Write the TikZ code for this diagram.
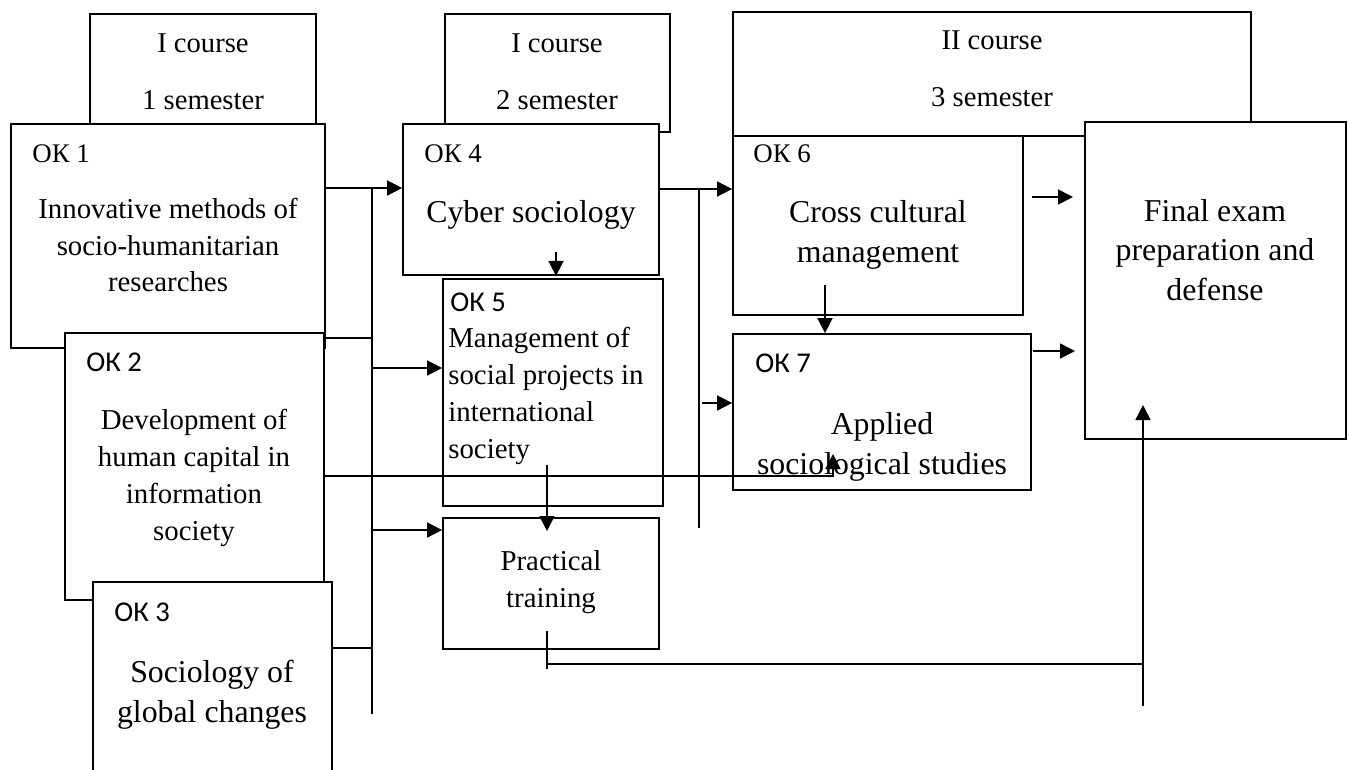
\documentclass[tikz,border=0pt]{standalone}
\usepackage{fontspec}
\setmainfont{Liberation Serif}
\newfontfamily\calibri{Carlito}
\usetikzlibrary{arrows.meta, fit, calc}

\tikzset{
  box/.style={draw, fill=white, line width=1pt, inner sep=0pt},
  serlab/.style={anchor=base west, inner sep=0pt, font=\fontsize{15.3}{18}\selectfont},
  sanlab/.style={anchor=base west, inner sep=0pt, font=\calibri\fontsize{16.3}{19}\selectfont},
  txt/.style={align=center, inner sep=0pt, font=\fontsize{16.4}{21}\selectfont},
  bigtxt/.style={align=center, inner sep=0pt, font=\fontsize{18.1}{22.7}\selectfont},
  semtxt/.style={align=center, inner sep=0pt, font=\fontsize{16.3}{32.3}\selectfont},
  conn/.style={line width=0.9pt},
  arr/.style={conn, -{Triangle[length=0.3cm, width=0.3cm]}},
}

\begin{document}
\begin{tikzpicture}[x=0.02cm, y=-0.02cm]
\useasboundingbox (0,0) rectangle (1349,769);

% I course, 1 semester
\node[box, fit={(90,14) (316,130)}] (sem1) {};
\node[semtxt] (sem1t) at (203,72) {I course\\1 semester};

% I course, 2 semester
\node[box, fit={(445,14) (670,132)}] (sem2) {};
\node[semtxt] (sem2t) at (557,72) {I course\\2 semester};

% II course, 3 semester
\node[box, fit={(733,12) (1251,136)}] (sem3) {};
\node[semtxt] (sem3t) at (992,69) {II course\\3 semester};

% OK 1
\node[box, fit={(11,124) (325,348)}] (ok1) {};
\node[serlab] (ok1l) at (32,162) {ОК 1};
\node[txt] (ok1t) at (168,245) {Innovative methods of\\socio-humanitarian\\researches};

% OK 2
\node[box, fit={(65,333) (324,600)}] (ok2) {};
\node[sanlab] (ok2l) at (86,371) {ОК 2};
\node[txt] (ok2t) at (194,478) {Development of\\human capital in\\information\\society};

% OK 3
\node[box, fit={(93,582) (332,790)}] (ok3) {};
\node[sanlab] (ok3l) at (114,621) {ОК 3};
\node[bigtxt] (ok3t) at (212,695) {Sociology of\\global changes};

% OK 4
\node[box, fit={(403,124) (659,275)}] (ok4) {};
\node[serlab] (ok4l) at (424,162) {ОК 4};
\node[bigtxt] (ok4t) at (531,215) {Cyber sociology};

% OK 5
\node[box, fit={(443,279) (663,506)}] (ok5) {};
\node[sanlab] (ok5l) at (450,311) {ОК 5};
\node[txt, align=left, anchor=west] (ok5t) at (448,396) {Management of\\social projects in\\international\\society};

% practical training
\node[box, fit={(443,518) (659,649)}] (prac) {};
\node[txt] (pract) at (551,582) {Practical\\training};

% OK 6
\node[box, fit={(733,136) (1023,315)}] (ok6) {};
\node[serlab] (ok6l) at (753,162) {ОК 6};
\node[bigtxt] (ok6t) at (878,235) {Cross cultural\\management};

% OK 7
\node[box, fit={(733,334) (1031,490)}] (ok7) {};
\node[sanlab] (ok7l) at (755,372) {ОК 7};
\node[bigtxt] (ok7t) at (882,447) {Applied\\sociological studies};

% final exam
\node[box, fit={(1085,122) (1346,439)}] (fin) {};
\node[bigtxt] (fint) at (1215,250) {Final exam\\preparation and\\defense};

% first bus
\coordinate (bus1t) at (372,188);
\coordinate (bus1b) at (372,714);
\coordinate (j2) at (372,338);
\coordinate (j5) at (372,368);
\coordinate (j6) at (372,530);
\coordinate (j3) at (372,648);
\draw[conn] (bus1t) -- (bus1b);
\draw[arr] (ok1.east |- bus1t) -- (bus1t -| ok4.west);
\draw[conn] (ok2.east |- j2) -- (j2);
\draw[arr] (j5) -- (j5 -| ok5.west);
\draw[arr] (j6) -- (j6 -| prac.west);
\draw[conn] (ok3.east |- j3) -- (j3);

% OK 2 to OK 7
\coordinate (tip7) at (833,454);
\coordinate (j7) at (833,476);
\draw[arr] (ok2.east |- j7) -| (tip7);

% second bus
\coordinate (bus2t) at (699,189);
\coordinate (bus2b) at (699,528);
\coordinate (j8) at (702,403);
\draw[conn] (bus2t) -- (bus2b);
\draw[arr] (ok4.east |- bus2t) -- (bus2t -| ok6.west);
\draw[arr] (j8) -- (j8 -| ok7.west);

% downward arrows
\coordinate (a4) at (556,252);
\draw[arr] (a4) -- (a4 |- ok4.south);
\coordinate (a5) at (547,465);
\coordinate (a5t) at (547,531);
\draw[arr] (a5) -- (a5t);
\coordinate (a67) at (825,285);
\draw[arr] (a67) -- (a67 |- ok7.north);

% to final exam
\coordinate (a6) at (1032,197);
\coordinate (a6t) at (1073,197);
\draw[arr] (a6) -- (a6t);
\coordinate (a7) at (1033,351);
\coordinate (a7t) at (1075,351);
\draw[arr] (a7) -- (a7t);
\coordinate (p1) at (547,631);
\coordinate (p2) at (547,669);
\coordinate (pj) at (1143,664);
\coordinate (f1) at (1143,706);
\coordinate (f2) at (1143,405);
\draw[conn] (p1) -- (p2);
\draw[conn] (p1 |- pj) -- (pj);
\draw[arr] (f1) -- (f2);
\end{tikzpicture}
\end{document}
